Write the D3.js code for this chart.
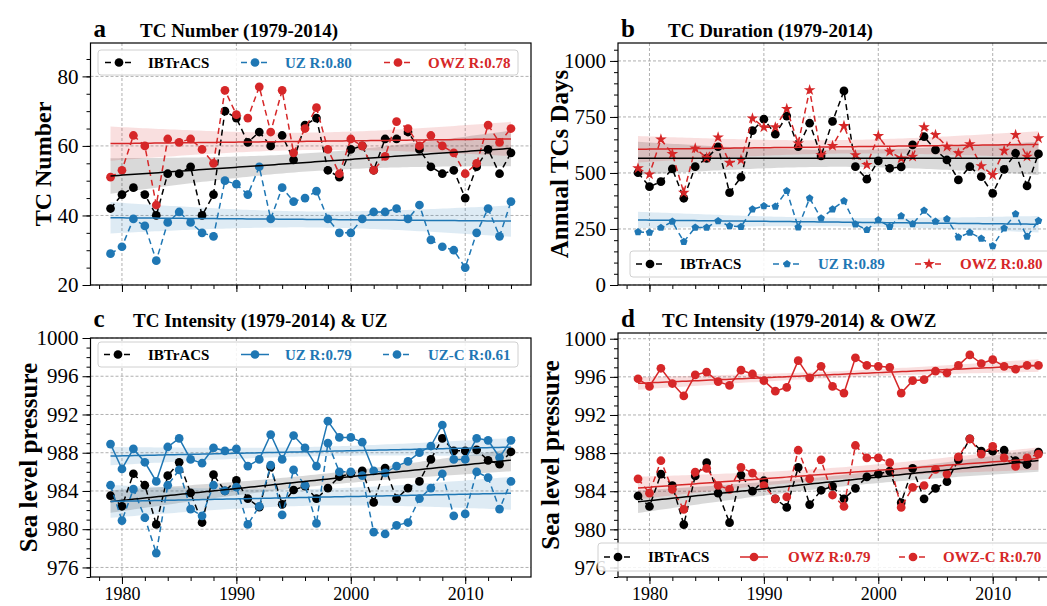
<!DOCTYPE html>
<html>
<head>
<meta charset="utf-8">
<script src="https://cdn.jsdelivr.net/npm/d3@7"></script>
<style>
body { margin: 0; background: #fff; }
svg text { font-family: "Liberation Serif", "Times New Roman", serif; }
</style>
</head>
<body>
<div id="chart"></div>
<script>
// ---- data ----
var years = d3.range(1979, 2015);

var numIBTrACS = [42,46,48,46,40,52,52,54,40,46,70,68,61,64,60,63,56,66,68,53,51,59,60,53,62,62,64,59,54,52,53,45,54,59,52,58];
var numUZ      = [29,31,39,37,27,38,41,38,35,34,50,49,46,54,39,48,44,45,47,39,35,35,39,41,41,42,39,43,33,31,30,25,35,42,34,44];
var numOWZ     = [51,53,63,60,43,62,61,62,59,55,76,69,68,77,64,76,58,65,71,59,52,62,60,53,57,67,65,60,63,60,58,52,55,66,61,65];

var durIBTrACS = [501,439,461,518,387,528,565,617,412,481,689,740,673,754,617,722,576,730,866,528,472,554,521,527,625,662,603,558,469,528,484,409,516,588,442,585];
var durUZ      = [237,234,256,283,193,257,257,286,263,260,338,353,350,420,258,387,298,338,375,271,246,290,260,308,272,332,283,295,213,234,208,174,253,317,216,287];
var durOWZ     = [521,494,650,585,412,610,568,659,546,558,744,704,704,786,632,870,580,621,710,580,536,665,595,565,573,704,670,617,588,629,531,491,600,670,573,655];

var slpIBTrACS = [983.5,982.4,985.8,984.6,980.5,985.6,987.0,983.8,980.7,985.7,984.0,985.1,983.2,982.3,986.5,982.6,984.1,984.5,983.2,984.3,985.5,985.8,986.1,982.8,986.4,983.2,984.3,985.0,987.3,989.5,988.2,988.2,988.3,987.2,986.8,988.1];
var slpUZ      = [988.9,986.3,988.4,987.0,985.0,988.6,989.5,987.3,986.9,988.5,988.2,988.4,986.6,987.3,989.9,987.3,989.8,988.5,986.6,991.3,989.6,989.6,989.1,986.1,985.9,986.6,987.1,988.0,988.7,990.9,987.3,987.3,989.5,989.3,987.5,989.3];
var slpUZC     = [984.6,980.9,984.2,981.2,977.5,984.6,986.2,982.1,981.4,984.6,984.0,984.4,980.5,982.4,986.7,981.5,986.2,984.6,980.6,989.0,986.0,986.0,985.6,979.7,979.5,980.4,980.7,983.2,984.3,985.8,981.4,981.6,986.0,985.4,982.1,985.0];
var slpOWZ     = [995.8,995.0,996.9,995.3,994.0,996.2,996.5,995.5,995.1,996.7,996.3,995.6,994.5,994.9,997.7,995.9,997.1,995.0,994.3,998.0,997.2,997.1,997.0,994.3,995.6,995.7,996.6,996.4,997.2,998.3,997.4,997.8,997.1,996.8,997.2,997.2];
var slpOWZC    = [985.3,983.8,987.2,984.2,982.1,986.0,986.4,984.6,984.2,986.5,985.9,984.6,983.2,983.4,988.3,985.3,987.3,983.6,982.4,988.8,987.5,987.5,987.0,982.3,984.4,984.6,986.3,985.8,987.6,989.5,987.9,988.7,987.5,986.6,987.5,987.9];

var yearTicks = [1980, 1990, 2000, 2010];
var numTicks = [20, 40, 60, 80];
var durTicks = [0, 250, 500, 750, 1000];
var slpTicks = [976, 980, 984, 988, 992, 996, 1000];

var red = "#d62728", blue = "#1f77b4", black = "#000000";

// ---- helpers ----
var symbolPentagon = {
    draw: function(ctx, size) {
        var r = Math.sqrt(size / 2.378);
        for (var k = 0; k < 5; k++) {
            var a = -Math.PI / 2 + k * 2 * Math.PI / 5;
            if (k == 0) ctx.moveTo(r * Math.cos(a), r * Math.sin(a));
            else ctx.lineTo(r * Math.cos(a), r * Math.sin(a));
        }
        ctx.closePath();
    }
};
function symbolType(m) {
    if (m == "star") return d3.symbolStar;
    if (m == "pentagon") return symbolPentagon;
    return d3.symbolCircle;
}
function symbolSize(m) {
    if (m == "star") return 42;
    if (m == "pentagon") return 38;
    return 60;
}

// least squares line with 95% band
function fit(xs, ys) {
    var n = xs.length, mx = d3.mean(xs), my = d3.mean(ys);
    var sxx = d3.sum(xs, function(x) { return (x - mx) * (x - mx); });
    var sxy = d3.sum(xs, function(x, i) { return (x - mx) * (ys[i] - my); });
    var b = sxy / sxx, a = my - b * mx;
    var sse = d3.sum(xs, function(x, i) { return Math.pow(ys[i] - (a + b * x), 2); });
    var s = Math.sqrt(sse / (n - 2));
    var t = 2.03;
    var grid = d3.range(0, 101).map(function(k) { return xs[0] + k * (xs[n - 1] - xs[0]) / 100; });
    return grid.map(function(x) {
        var yh = a + b * x;
        var se = s * Math.sqrt(1 / n + (x - mx) * (x - mx) / sxx);
        return { x: x, y: yh, lo: yh - t * se, hi: yh + t * se };
    });
}

var panels = [
    { key: "a", title: "TC Number (1979-2014)", ylabel: "TC  Number", ylabelX: 43, ylabelSize: 24,
      left: 90.5, right: 531, top: 43, bottom: 285, yDomain: [20, 89.6], yTicks: numTicks, yMinor: d3.range(20, 90, 5),
      xLabels: false, titleY: 37, titleX: 140,
      series: [
          { v: numIBTrACS, c: black, dash: true, m: "circle" },
          { v: numUZ, c: blue, dash: true, m: "circle" },
          { v: numOWZ, c: red, dash: true, m: "circle" }
      ],
      legend: { x: 98, y: 50, w: 420, h: 25, items: [
          { label: "IBTrACS", c: black, dash: true, m: "circle", hx: 105, tx: 148 },
          { label: "UZ R:0.80", c: blue, dash: true, m: "circle", hx: 241, tx: 285 },
          { label: "OWZ R:0.78", c: red, dash: true, m: "circle", hx: 384, tx: 428 }
      ] } },
    { key: "b", title: "TC Duration (1979-2014)", ylabel: "Annual TCs Days", ylabelX: 559, ylabelSize: 25,
      left: 618, right: 1058.5, top: 43, bottom: 285, yDomain: [0, 1080], yTicks: durTicks, yMinor: d3.range(0, 1080, 50),
      xLabels: false, titleY: 37, titleX: 668,
      series: [
          { v: durIBTrACS, c: black, dash: true, m: "circle" },
          { v: durUZ, c: blue, dash: true, m: "pentagon" },
          { v: durOWZ, c: red, dash: true, m: "star" }
      ],
      legend: { x: 630, y: 251, w: 430, h: 26, items: [
          { label: "IBTrACS", c: black, dash: true, m: "circle", hx: 636, tx: 680 },
          { label: "UZ R:0.89", c: blue, dash: true, m: "pentagon", hx: 773, tx: 818 },
          { label: "OWZ R:0.80", c: red, dash: true, m: "star", hx: 915, tx: 960 }
      ] } },
    { key: "c", title: "TC Intensity (1979-2014) & UZ", ylabel: "Sea level pressure", ylabelX: 28, ylabelSize: 25,
      left: 90.5, right: 531, top: 338, bottom: 577, yDomain: [975, 1000], yTicks: slpTicks, yMinor: d3.range(975, 1001, 1),
      xLabels: true, titleY: 327, titleX: 133,
      series: [
          { v: slpIBTrACS, c: black, dash: true, m: "circle" },
          { v: slpUZ, c: blue, dash: false, m: "circle" },
          { v: slpUZC, c: blue, dash: true, m: "circle" }
      ],
      legend: { x: 98, y: 342, w: 420, h: 25, items: [
          { label: "IBTrACS", c: black, dash: true, m: "circle", hx: 104, tx: 148 },
          { label: "UZ R:0.79", c: blue, dash: false, m: "circle", hx: 241, tx: 285 },
          { label: "UZ-C R:0.61", c: blue, dash: true, m: "circle", hx: 383, tx: 428 }
      ] } },
    { key: "d", title: "TC Intensity (1979-2014) & OWZ", ylabel: "Sea level pressure", ylabelX: 550, ylabelSize: 25,
      left: 618, right: 1058.5, top: 333, bottom: 577, yDomain: [975, 1000.6], yTicks: slpTicks, yMinor: d3.range(975, 1001, 1),
      xLabels: true, titleY: 327, titleX: 662,
      series: [
          { v: slpIBTrACS, c: black, dash: true, m: "circle" },
          { v: slpOWZ, c: red, dash: false, m: "circle" },
          { v: slpOWZC, c: red, dash: true, m: "circle" }
      ],
      legend: { x: 598, y: 543, w: 470, h: 28, items: [
          { label: "IBTrACS", c: black, dash: true, m: "circle", hx: 604, tx: 648 },
          { label: "OWZ R:0.79", c: red, dash: false, m: "circle", hx: 740, tx: 788 },
          { label: "OWZ-C R:0.70", c: red, dash: true, m: "circle", hx: 899, tx: 943 }
      ] } }
];

var svg = d3.select("#chart").append("svg")
    .attr("width", 1047)
    .attr("height", 606);

panels.forEach(function(p) {
    var x = d3.scaleLinear().domain([1977.25, 2015.75]).range([p.left, p.right]);
    var y = d3.scaleLinear().domain(p.yDomain).range([p.bottom, p.top]);
    var g = svg.append("g");

    // grid
    g.selectAll(".gx").data(yearTicks).enter().append("line")
        .attr("x1", function(d) { return x(d); }).attr("x2", function(d) { return x(d); })
        .attr("y1", p.top).attr("y2", p.bottom)
        .attr("stroke", "#b0b0b0").attr("stroke-width", 1).attr("stroke-dasharray", "3,2");
    g.selectAll(".gy").data(p.yTicks).enter().append("line")
        .attr("x1", p.left).attr("x2", p.right)
        .attr("y1", function(d) { return y(d); }).attr("y2", function(d) { return y(d); })
        .attr("stroke", "#b0b0b0").attr("stroke-width", 1).attr("stroke-dasharray", "3,2");

    // regression bands
    p.series.forEach(function(s) {
        var f = fit(years, s.v);
        s.fit = f;
        g.append("path").datum(f)
            .attr("d", d3.area().x(function(d) { return x(d.x); })
                .y0(function(d) { return y(d.lo); }).y1(function(d) { return y(d.hi); }))
            .attr("fill", s.c).attr("fill-opacity", 0.15);
    });

    // data lines + markers
    p.series.forEach(function(s) {
        g.append("path").datum(s.v)
            .attr("d", d3.line().x(function(d, i) { return x(years[i]); }).y(function(d) { return y(d); }))
            .attr("fill", "none").attr("stroke", s.c).attr("stroke-width", 1.5)
            .attr("stroke-dasharray", s.dash ? "6,4" : null);
        g.selectAll(null).data(s.v).enter().append("path")
            .attr("transform", function(d, i) { return "translate(" + x(years[i]) + "," + y(d) + ")"; })
            .attr("d", d3.symbol().type(symbolType(s.m)).size(symbolSize(s.m)))
            .attr("fill", s.c);
    });

    // trend lines
    p.series.forEach(function(s) {
        g.append("path").datum(s.fit)
            .attr("d", d3.line().x(function(d) { return x(d.x); }).y(function(d) { return y(d.y); }))
            .attr("fill", "none").attr("stroke", s.c).attr("stroke-width", 1.5);
    });

    // axes
    var yAxis = d3.axisLeft(y).tickValues(p.yTicks).tickSize(8).tickPadding(4).tickFormat(d3.format("d"));
    var ya = g.append("g").attr("transform", "translate(" + p.left + ",0)").call(yAxis);
    ya.select(".domain").remove();
    ya.selectAll("text").style("font-size", "21px").attr("fill", "#000");
    var yMin = d3.axisLeft(y).tickValues(p.yMinor).tickSize(4).tickFormat("");
    var ym = g.append("g").attr("transform", "translate(" + p.left + ",0)").call(yMin);
    ym.select(".domain").remove();

    var xAxis = d3.axisBottom(x).tickValues(yearTicks).tickSize(7).tickPadding(3)
        .tickFormat(p.xLabels ? d3.format("d") : "");
    var xa = g.append("g").attr("transform", "translate(0," + p.bottom + ")").call(xAxis);
    xa.select(".domain").remove();
    xa.selectAll("text").style("font-size", "18px").attr("fill", "#000");
    var xMin = d3.axisBottom(x).tickValues(d3.range(1978, 2016, 2)).tickSize(4).tickFormat("");
    var xm = g.append("g").attr("transform", "translate(0," + p.bottom + ")").call(xMin);
    xm.select(".domain").remove();

    // frame
    g.append("rect")
        .attr("x", p.left).attr("y", p.top)
        .attr("width", p.right - p.left).attr("height", p.bottom - p.top)
        .attr("fill", "none").attr("stroke", "#000").attr("stroke-width", 1.2);

    // titles
    g.append("text").attr("x", p.left + 3).attr("y", p.titleY)
        .style("font-size", "25px").style("font-weight", "bold").text(p.key);
    g.append("text").attr("x", p.titleX).attr("y", p.titleY)
        .style("font-size", "19px").style("font-weight", "bold").text(p.title);
    g.append("text")
        .attr("transform", "translate(" + p.ylabelX + "," + ((p.top + p.bottom) / 2) + ") rotate(-90)")
        .attr("text-anchor", "middle").attr("dy", "0.35em")
        .style("font-size", p.ylabelSize + "px").style("font-weight", "bold").text(p.ylabel);

    // legend
    var L = p.legend;
    var lg = g.append("g");
    lg.append("rect").attr("x", L.x).attr("y", L.y).attr("width", L.w).attr("height", L.h)
        .attr("rx", 3).attr("fill", "#fff").attr("fill-opacity", 0.85)
        .attr("stroke", "#d0d0d0").attr("stroke-width", 1);
    var cy = L.y + L.h / 2;
    L.items.forEach(function(it) {
        lg.append("line").attr("x1", it.hx).attr("x2", it.hx + 28).attr("y1", cy).attr("y2", cy)
            .attr("stroke", it.c).attr("stroke-width", 1.5).attr("stroke-dasharray", it.dash ? "6,4" : null);
        lg.append("path").attr("transform", "translate(" + (it.hx + 14) + "," + cy + ")")
            .attr("d", d3.symbol().type(symbolType(it.m)).size(symbolSize(it.m)))
            .attr("fill", it.c);
        lg.append("text").attr("x", it.tx).attr("y", cy).attr("dy", "0.35em")
            .style("font-size", "15px").style("font-weight", "bold").attr("fill", it.c).text(it.label);
    });
});
</script>
</body>
</html>
